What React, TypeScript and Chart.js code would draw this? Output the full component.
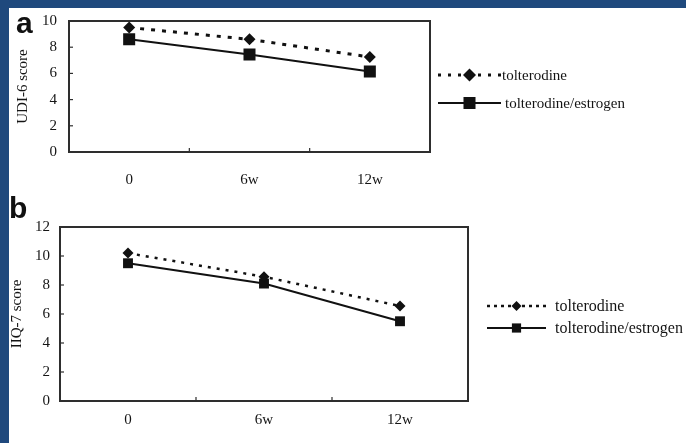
import React, { useEffect, useRef } from 'react';
import { Chart, registerables } from 'chart.js';

Chart.register(...registerables);

// ---- data ----
const timepoints = ['0', '6w', '12w'];
const seriesNames = ['tolterodine', 'tolterodine/estrogen'];
const udiTolterodine = [9.5, 8.6, 7.25];
const udiTolEstrogen = [8.6, 7.45, 6.15];
const iiqTolterodine = [10.2, 8.57, 6.55];
const iiqTolEstrogen = [9.5, 8.1, 5.5];
const udiAxisMax = 10;
const iiqAxisMax = 12;
const axisStep = 2;

const SERIF = '"Liberation Serif", "Times New Roman", serif';
const INK = '#141414';
const FRAME = '#2e2e2e';

function drawMarker(ctx: CanvasRenderingContext2D, style: string, x: number, y: number, r: number) {
  ctx.beginPath();
  if (style === 'rectRot') {
    ctx.moveTo(x - r, y);
    ctx.lineTo(x, y - r);
    ctx.lineTo(x + r, y);
    ctx.lineTo(x, y + r);
  } else {
    const s = r * Math.SQRT1_2;
    ctx.rect(x - s, y - s, 2 * s, 2 * s);
  }
  ctx.closePath();
  ctx.fill();
}

const framePlugin = {
  id: 'frameBox',
  beforeDatasetsDraw(chart: any) {
    const { ctx, chartArea } = chart;
    const { left, right, top, bottom } = chartArea;
    const xs = chart.scales.x;
    const ys = chart.scales.y;
    ctx.save();
    ctx.strokeStyle = FRAME;
    ctx.lineWidth = 2;
    ctx.strokeRect(left, top, right - left, bottom - top);
    ctx.lineWidth = 1.2;
    ys.ticks.forEach((t: any) => {
      if (t.value <= ys.min || t.value >= ys.max) return;
      const py = ys.getPixelForValue(t.value);
      ctx.beginPath();
      ctx.moveTo(left, py);
      ctx.lineTo(left + 4, py);
      ctx.stroke();
    });
    const n = chart.data.labels.length;
    for (let i = 0; i < n - 1; i++) {
      const px = (xs.getPixelForValue(i) + xs.getPixelForValue(i + 1)) / 2;
      ctx.beginPath();
      ctx.moveTo(px, bottom);
      ctx.lineTo(px, bottom - 4);
      ctx.stroke();
    }
    ctx.restore();
  },
};

const legendPlugin = {
  id: 'sideLegend',
  afterDraw(chart: any, _args: any, opts: any) {
    if (!opts || !opts.rows) return;
    const { ctx } = chart;
    ctx.save();
    chart.data.datasets.forEach((ds: any, i: number) => {
      const row = opts.rows[i];
      ctx.strokeStyle = ds.borderColor;
      ctx.fillStyle = ds.pointBackgroundColor;
      ctx.lineWidth = row.lineWidth;
      ctx.setLineDash(row.dash || []);
      ctx.beginPath();
      ctx.moveTo(opts.x0, row.y);
      ctx.lineTo(opts.x1, row.y);
      ctx.stroke();
      ctx.setLineDash([]);
      drawMarker(ctx, ds.pointStyle, (opts.x0 + opts.x1) / 2, row.y, row.r);
      ctx.fillStyle = INK;
      ctx.font = `${opts.fontSize}px ${SERIF}`;
      ctx.textBaseline = 'middle';
      ctx.textAlign = 'left';
      ctx.fillText(ds.label, row.textX, row.y + 1);
    });
    ctx.restore();
  },
};

type PanelSpec = {
  top: number;
  height: number;
  area: { left: number; right: number; top: number; bottom: number };
  yMax: number;
  title: string;
  titlePad: number;
  xPad: number;
  yPad: number;
  tol: number[];
  est: number[];
  tolDash: number[];
  tolWidth: number;
  estWidth: number;
  diamondR: number;
  squareR: number;
  legend: any;
};

const W = 686;

function Panel({ spec }: { spec: PanelSpec }) {
  const ref = useRef<HTMLCanvasElement>(null);
  useEffect(() => {
    if (!ref.current) return;
    const { area } = spec;
    const tickFont = { family: SERIF, size: 15 };
    const chart = new Chart(ref.current, {
      type: 'line',
      data: {
        labels: timepoints,
        datasets: [
          {
            label: seriesNames[0],
            data: spec.tol,
            borderColor: '#111',
            borderWidth: spec.tolWidth,
            borderDash: spec.tolDash,
            pointStyle: 'rectRot',
            pointRadius: spec.diamondR,
            pointBackgroundColor: '#111',
            pointBorderWidth: 0,
            fill: false,
            tension: 0,
          },
          {
            label: seriesNames[1],
            data: spec.est,
            borderColor: '#111',
            borderWidth: spec.estWidth,
            pointStyle: 'rect',
            pointRadius: spec.squareR,
            pointBackgroundColor: '#111',
            pointBorderWidth: 0,
            fill: false,
            tension: 0,
          },
        ],
      },
      options: {
        animation: false,
        responsive: false,
        maintainAspectRatio: false,
        events: [],
        layout: { padding: { top: area.top, right: W - area.right, left: 0, bottom: 0 } },
        plugins: {
          legend: { display: false },
          tooltip: { enabled: false },
          sideLegend: spec.legend,
        } as any,
        scales: {
          x: {
            type: 'category',
            offset: true,
            grid: { display: false, drawTicks: false },
            border: { display: false },
            ticks: { padding: spec.xPad, font: tickFont, color: INK },
            afterFit: (s: any) => {
              s.height = spec.height - area.bottom;
            },
          },
          y: {
            min: 0,
            max: spec.yMax,
            grid: { display: false, drawTicks: false },
            border: { display: false },
            ticks: { stepSize: axisStep, padding: spec.yPad, font: tickFont, color: INK },
            title: {
              display: true,
              text: spec.title,
              font: { family: SERIF, size: 15 },
              color: INK,
              padding: { top: spec.titlePad, bottom: 0 },
            },
            afterFit: (s: any) => {
              s.width = area.left;
            },
          },
        },
      } as any,
      plugins: [framePlugin, legendPlugin],
    });
    return () => chart.destroy();
  }, [spec]);
  return (
    <canvas
      ref={ref}
      width={W}
      height={spec.height}
      style={{ position: 'absolute', left: 0, top: spec.top, width: W, height: spec.height }}
    />
  );
}

const panelA: PanelSpec = {
  top: 0,
  height: 195,
  area: { left: 69, right: 430, top: 18, bottom: 152 },
  yMax: udiAxisMax,
  title: 'UDI-6 score',
  titlePad: 14,
  xPad: 19,
  yPad: 12,
  tol: udiTolterodine,
  est: udiTolEstrogen,
  tolDash: [4, 7],
  tolWidth: 3,
  estWidth: 2,
  diamondR: 6,
  squareR: 8.5,
  legend: {
    x0: 438,
    x1: 501,
    fontSize: 15,
    rows: [
      { y: 75, textX: 502, dash: [3, 7], lineWidth: 3, r: 6.5 },
      { y: 103, textX: 505, dash: [], lineWidth: 2, r: 8.5 },
    ],
  },
};

const panelB: PanelSpec = {
  top: 190,
  height: 253,
  area: { left: 60, right: 468, top: 37, bottom: 211 },
  yMax: iiqAxisMax,
  title: 'IIQ-7 score',
  titlePad: 8,
  xPad: 10,
  yPad: 10,
  tol: iiqTolterodine,
  est: iiqTolEstrogen,
  tolDash: [3, 6],
  tolWidth: 2.5,
  estWidth: 2,
  diamondR: 5.5,
  squareR: 7,
  legend: {
    x0: 487,
    x1: 546,
    fontSize: 16,
    rows: [
      { y: 116, textX: 555, dash: [3, 4], lineWidth: 2.5, r: 5 },
      { y: 138, textX: 555, dash: [], lineWidth: 2, r: 6.5 },
    ],
  },
};

export default function App() {
  return (
    <div
      style={{
        position: 'fixed',
        left: 0,
        top: 0,
        width: W,
        height: 443,
        background: '#fff',
        overflow: 'hidden',
      }}
    >
      <div style={{ position: 'absolute', left: 0, top: 0, width: W, height: 8, background: '#1f497d' }} />
      <div style={{ position: 'absolute', left: 0, top: 0, width: 9, height: 443, background: '#1f497d' }} />
      <Panel spec={panelA} />
      <Panel spec={panelB} />
      <div
        style={{
          position: 'absolute',
          left: 16,
          top: 8,
          font: 'bold 30px "Liberation Sans", Arial, sans-serif',
          lineHeight: '30px',
          color: '#111',
          zIndex: 2,
        }}
      >
        a
      </div>
      <div
        style={{
          position: 'absolute',
          left: 9,
          top: 193,
          font: 'bold 30px "Liberation Sans", Arial, sans-serif',
          lineHeight: '30px',
          color: '#111',
          zIndex: 2,
        }}
      >
        b
      </div>
    </div>
  );
}
